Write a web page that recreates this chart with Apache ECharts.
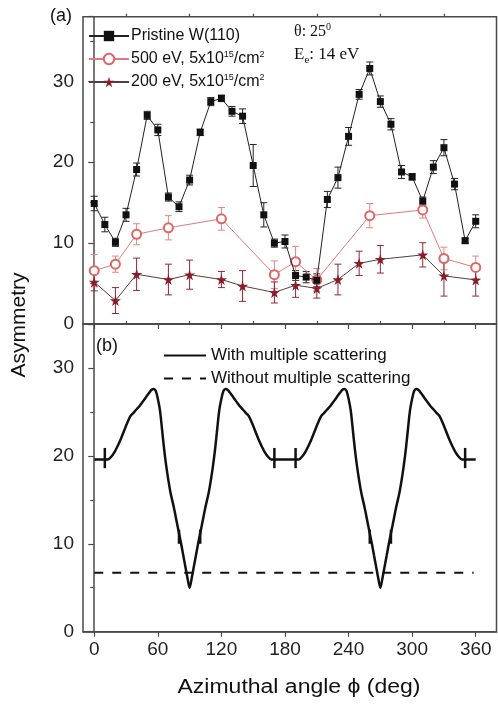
<!DOCTYPE html>
<html><head><meta charset="utf-8">
<script src="https://cdn.jsdelivr.net/npm/echarts@6/dist/echarts.min.js"></script>
<style>html,body{margin:0;padding:0;background:#fff}#c{width:498px;height:704px}</style>
</head><body><div id="c"></div>
<script>
// ---------- data ----------
const phiMajorTicks = [0, 60, 120, 180, 240, 300, 360];
const phiMinorTicks = [30, 90, 150, 210, 270, 330];
const asymTicksA = [0, 10, 20, 30];
const asymTicksB = [0, 10, 20, 30];

// Panel (a)
const pristinePhi = [0,10,20,30,40,50,60,70,80,90,100,110,120,130,140,150,160,170,180,190,200,210,220,230,240,250,260,270,280,290,300,310,320,330,340,350,360];
const pristineVal = [14.9,12.3,10.1,13.5,19.1,25.8,24.0,15.7,14.5,17.8,23.7,27.5,27.9,26.3,25.7,19.6,13.5,10.0,10.2,6.0,5.8,5.4,15.4,18.1,23.2,28.4,31.6,27.5,24.7,18.8,18.2,15.2,19.4,21.8,17.3,10.3,12.7];
const pristineErr = [0.9,0.9,0.5,0.8,0.8,0.5,0.7,0.5,0.6,0.6,0.4,0.5,0.4,0.6,0.9,2.6,1.5,0.5,0.8,0.6,0.7,0.8,1.0,1.3,1.1,0.6,0.8,0.7,0.7,0.8,0.4,0.5,0.8,1.0,0.7,0.3,0.8];

const ev500Phi = [0,20,40,70,120,170,190,210,260,310,330,360];
const ev500Val = [6.6,7.4,11.1,11.9,13.0,6.1,7.7,5.45,13.4,14.1,8.1,7.0];
const ev500Err = [2.0,1.0,1.3,1.5,1.4,1.7,1.9,1.4,1.5,1.0,1.4,1.4];

const ev200Phi = [0,20,40,70,90,120,140,170,190,210,230,250,270,310,330,360];
const ev200Val = [5.2,2.9,6.15,5.5,6.1,5.5,4.7,3.9,4.8,4.4,5.5,7.5,8.0,8.55,5.95,5.45];
const ev200Err = [1.1,1.6,2.0,1.9,1.8,1.0,1.9,1.3,1.5,1.2,1.9,1.5,1.7,1.5,2.5,2.0];

// Panel (b)
const withMsPhi = [0,5,10,13,16,19,22,25,28,31,34,37,40,43,46,49,52,54,56,58,60,62,64,66,68,70,72,75,78,80,82,84,86,88,90,
  92,94,96,98,100,102,105,108,110,112,114,116,118,120,122,124,126,128,131,134,137,140,143,146,149,152,155,158,161,164,167,170,175,
  180,185,190,193,196,199,202,205,208,211,214,217,220,223,226,229,232,234,236,238,240,242,244,246,248,250,252,255,258,260,262,264,266,268,270,
  272,274,276,278,280,282,285,288,290,292,294,296,298,300,302,304,306,308,311,314,317,320,323,326,329,332,335,338,341,344,347,350,355,360];
const withMsVal = [19.6,19.6,19.6,19.6,19.9,20.4,21.1,21.9,22.8,23.7,24.5,24.9,25.3,25.7,26.2,26.7,27.2,27.5,27.6,27.4,26.5,25.2,23.0,20.7,18.8,17.2,15.8,14.2,12.4,11.2,10.0,8.7,7.4,6.1,5.0,
  6.1,7.4,8.7,10.0,11.2,12.4,14.2,15.8,17.2,18.8,20.7,23.0,25.2,26.5,27.4,27.6,27.5,27.2,26.7,26.2,25.7,25.3,24.9,24.5,23.7,22.8,21.9,21.1,20.4,19.9,19.6,19.6,19.6,
  19.6,19.6,19.6,19.6,19.9,20.4,21.1,21.9,22.8,23.7,24.5,24.9,25.3,25.7,26.2,26.7,27.2,27.5,27.6,27.4,26.5,25.2,23.0,20.7,18.8,17.2,15.8,14.2,12.4,11.2,10.0,8.7,7.4,6.1,5.0,
  6.1,7.4,8.7,10.0,11.2,12.4,14.2,15.8,17.2,18.8,20.7,23.0,25.2,26.5,27.4,27.6,27.5,27.2,26.7,26.2,25.7,25.3,24.9,24.5,23.7,22.8,21.9,21.1,20.4,19.9,19.6,19.6,19.6,19.6];
const withoutMsPhi = [0, 358];
const withoutMsVal = [6.7, 6.7];
// small junction marks on the calculated curve
const markPhi = [10,170,190,350,80,100,260,280];
const markLo  = [18.6,18.6,18.6,18.6,10.0,10.0,10.0,10.0];
const markHi  = [20.9,20.9,20.9,20.9,11.6,11.6,11.6,11.6];

// ---------- chart ----------
const FONT = '"Liberation Sans", Arial, sans-serif';
const AX = '#4a4a4a';
const pairs = (xs, ys) => xs.map((x, i) => [x, ys[i]]);
const triples = (xs, ys, es) => xs.map((x, i) => [x, ys[i], es[i]]);
const starPath = 'path://M50,0 L61,35 L98,35 L68,57 L79,91 L50,70 L21,91 L32,57 L2,35 L39,35 Z';

function errRender(color) {
  return function (params, api) {
    const x = api.value(0), y = api.value(1), e = api.value(2);
    const t = api.coord([x, y + e]), b = api.coord([x, y - e]);
    const w = 3.5, st = { stroke: color, lineWidth: 1 };
    return { type: 'group', children: [
      { type: 'line', shape: { x1: t[0], y1: t[1], x2: b[0], y2: b[1] }, style: st },
      { type: 'line', shape: { x1: t[0] - w, y1: t[1], x2: t[0] + w, y2: t[1] }, style: st },
      { type: 'line', shape: { x1: b[0] - w, y1: b[1], x2: b[0] + w, y2: b[1] }, style: st }
    ]};
  };
}
function markRender(params, api) {
  const x = api.value(0);
  const t = api.coord([x, api.value(2)]), b = api.coord([x, api.value(1)]);
  return { type: 'line', shape: { x1: t[0], y1: t[1], x2: b[0], y2: b[1] }, style: { stroke: '#111', lineWidth: 2.5 } };
}

const xBase = (gi, major, labels) => ({
  type: 'value', gridIndex: gi, min: -10.6, max: 379.6,
  axisLine: { show: major, lineStyle: { color: AX, width: 1.5 } },
  axisTick: { show: true, inside: false, length: major ? 5 : 3, customValues: major ? phiMajorTicks : phiMinorTicks, lineStyle: { color: AX, width: 1.2 } },
  axisLabel: { show: labels, customValues: phiMajorTicks, fontSize: 19, color: '#222', fontFamily: FONT, margin: 9 },
  splitLine: { show: false }
});
const yBase = (gi, max, labelVals) => ({
  type: 'value', gridIndex: gi, min: 0, max: max, interval: 10,
  axisLine: { show: true, lineStyle: { color: AX, width: 1.5 } },
  axisTick: { show: true, inside: false, length: 6, lineStyle: { color: AX, width: 1.2 } },
  minorTick: { show: true, splitNumber: 2, length: 4, lineStyle: { color: AX, width: 1.2 } },
  axisLabel: { fontSize: 19, color: '#222', fontFamily: FONT, margin: 9, customValues: labelVals },
  splitLine: { show: false }, minorSplitLine: { show: false }
});

const supRich = {
  n: { fontSize: 16, fontFamily: FONT, color: '#111', lineHeight: 18, verticalAlign: 'middle' },
  sup: { fontSize: 9, fontFamily: FONT, color: '#111', lineHeight: 18, verticalAlign: 'top' }
};
const legendLabels = {
  'Pristine W(110)': '{n|Pristine W(110)}',
  '500 eV, 5x10¹⁵/cm²': '{n|500 eV, 5x10}{sup|15}{n|/cm}{sup|2}',
  '200 eV, 5x10¹⁵/cm²': '{n|200 eV, 5x10}{sup|15}{n|/cm}{sup|2}'
};

const option = {
  animation: false,
  backgroundColor: '#fff',
  grid: [
    { left: 83, right: 1.5, top: 16.7, height: 307.3, show: true, borderColor: AX, borderWidth: 1.5, backgroundColor: 'transparent' },
    { left: 83, right: 1.5, top: 324, height: 307.7, show: true, borderColor: AX, borderWidth: 1.5, backgroundColor: 'transparent' }
  ],
  xAxis: [ xBase(0, true, false), xBase(0, false, false), xBase(1, true, true), xBase(1, false, false) ],
  yAxis: [ yBase(0, 38, asymTicksA), yBase(1, 35, asymTicksB) ],
  legend: [
    { orient: 'vertical', left: 83, top: 23, itemWidth: 40, itemHeight: 13, itemGap: 6,
      data: ['Pristine W(110)', '500 eV, 5x10¹⁵/cm²', '200 eV, 5x10¹⁵/cm²'],
      formatter: name => legendLabels[name],
      textStyle: { rich: supRich, fontSize: 16, fontFamily: FONT, color: '#111', padding: [0, 0, 0, -3] } },
    { orient: 'vertical', left: 158, top: 342, itemWidth: 42, itemHeight: 14, itemGap: 6,
      itemStyle: { opacity: 0 },
      data: ['With multiple scattering', 'Without multiple scattering'],
      textStyle: { fontSize: 17, fontFamily: FONT, color: '#111', lineHeight: 16 } }
  ],
  graphic: [
    { type: 'text', left: 50, top: 7, style: { text: '(a)', font: '18px ' + FONT, fill: '#111' } },
    { type: 'text', left: 96, top: 337, style: { text: '(b)', font: '18px ' + FONT, fill: '#111' } },
    { type: 'text', left: 294, top: 22, style: { text: '{n|θ: 25}{s|0}', rich: {
        n: { fontSize: 16, fontFamily: '"Liberation Serif", serif', fill: '#111', lineHeight: 20, verticalAlign: 'middle' },
        s: { fontSize: 10, fontFamily: '"Liberation Serif", serif', fill: '#111', lineHeight: 20, verticalAlign: 'top' } } } },
    { type: 'text', left: 294, top: 46, style: { text: '{n|E}{s|e}{n|: 14 eV}', rich: {
        n: { fontSize: 17, fontFamily: '"Liberation Serif", serif', fill: '#111', lineHeight: 22, verticalAlign: 'middle' },
        s: { fontSize: 11, fontFamily: '"Liberation Serif", serif', fill: '#111', lineHeight: 22, verticalAlign: 'bottom' } } } },
    { type: 'text', x: 19, y: 325, rotation: Math.PI / 2, style: { text: 'Asymmetry', font: '21px ' + FONT, fill: '#111', textAlign: 'center', textVerticalAlign: 'middle' } },
    { type: 'text', x: 299, y: 687, scaleX: 1.15, style: { text: 'Azimuthal angle ϕ (deg)', font: '20px ' + FONT, fill: '#111', textAlign: 'center', textVerticalAlign: 'middle' } }
  ],
  series: [
    { type: 'custom', name: 'errPristine', xAxisIndex: 0, yAxisIndex: 0, z: 1, renderItem: errRender('#222'), data: triples(pristinePhi, pristineVal, pristineErr) },
    { type: 'custom', name: 'err500', xAxisIndex: 0, yAxisIndex: 0, z: 1, renderItem: errRender('#e08585'), data: triples(ev500Phi, ev500Val, ev500Err) },
    { type: 'custom', name: 'err200', xAxisIndex: 0, yAxisIndex: 0, z: 1, renderItem: errRender('#8e2a36'), data: triples(ev200Phi, ev200Val, ev200Err) },
    { type: 'line', name: 'Pristine W(110)', xAxisIndex: 0, yAxisIndex: 0, z: 3, data: pairs(pristinePhi, pristineVal),
      symbol: 'rect', symbolSize: 7, itemStyle: { color: '#111' }, lineStyle: { color: '#222', width: 1 } },
    { type: 'line', name: '500 eV, 5x10¹⁵/cm²', xAxisIndex: 0, yAxisIndex: 0, z: 2, data: pairs(ev500Phi, ev500Val),
      symbol: 'emptyCircle', symbolSize: 9, itemStyle: { color: '#e06565', borderWidth: 1.2 }, lineStyle: { color: '#e07a7a', width: 1 } },
    { type: 'line', name: '200 eV, 5x10¹⁵/cm²', xAxisIndex: 0, yAxisIndex: 0, z: 2, data: pairs(ev200Phi, ev200Val),
      symbol: starPath, symbolSize: 11, itemStyle: { color: '#8a1c2b' }, lineStyle: { color: '#5a3d40', width: 1 } },
    { type: 'line', name: 'With multiple scattering', xAxisIndex: 2, yAxisIndex: 1, data: pairs(withMsPhi, withMsVal),
      symbol: 'none', smooth: 0.3, lineStyle: { color: '#111', width: 2.5 }, itemStyle: { color: '#111' } },
    { type: 'line', name: 'Without multiple scattering', xAxisIndex: 2, yAxisIndex: 1, data: pairs(withoutMsPhi, withoutMsVal),
      symbol: 'none', lineStyle: { color: '#111', width: 2, type: [9, 9] }, itemStyle: { color: '#111' } },
    { type: 'custom', name: 'marks', xAxisIndex: 2, yAxisIndex: 1, renderItem: markRender, data: markPhi.map((x, i) => [x, markLo[i], markHi[i]]) }
  ]
};
const chart = echarts.init(document.getElementById('c'), null, { renderer: 'canvas' });
chart.setOption(option);
</script></body></html>
